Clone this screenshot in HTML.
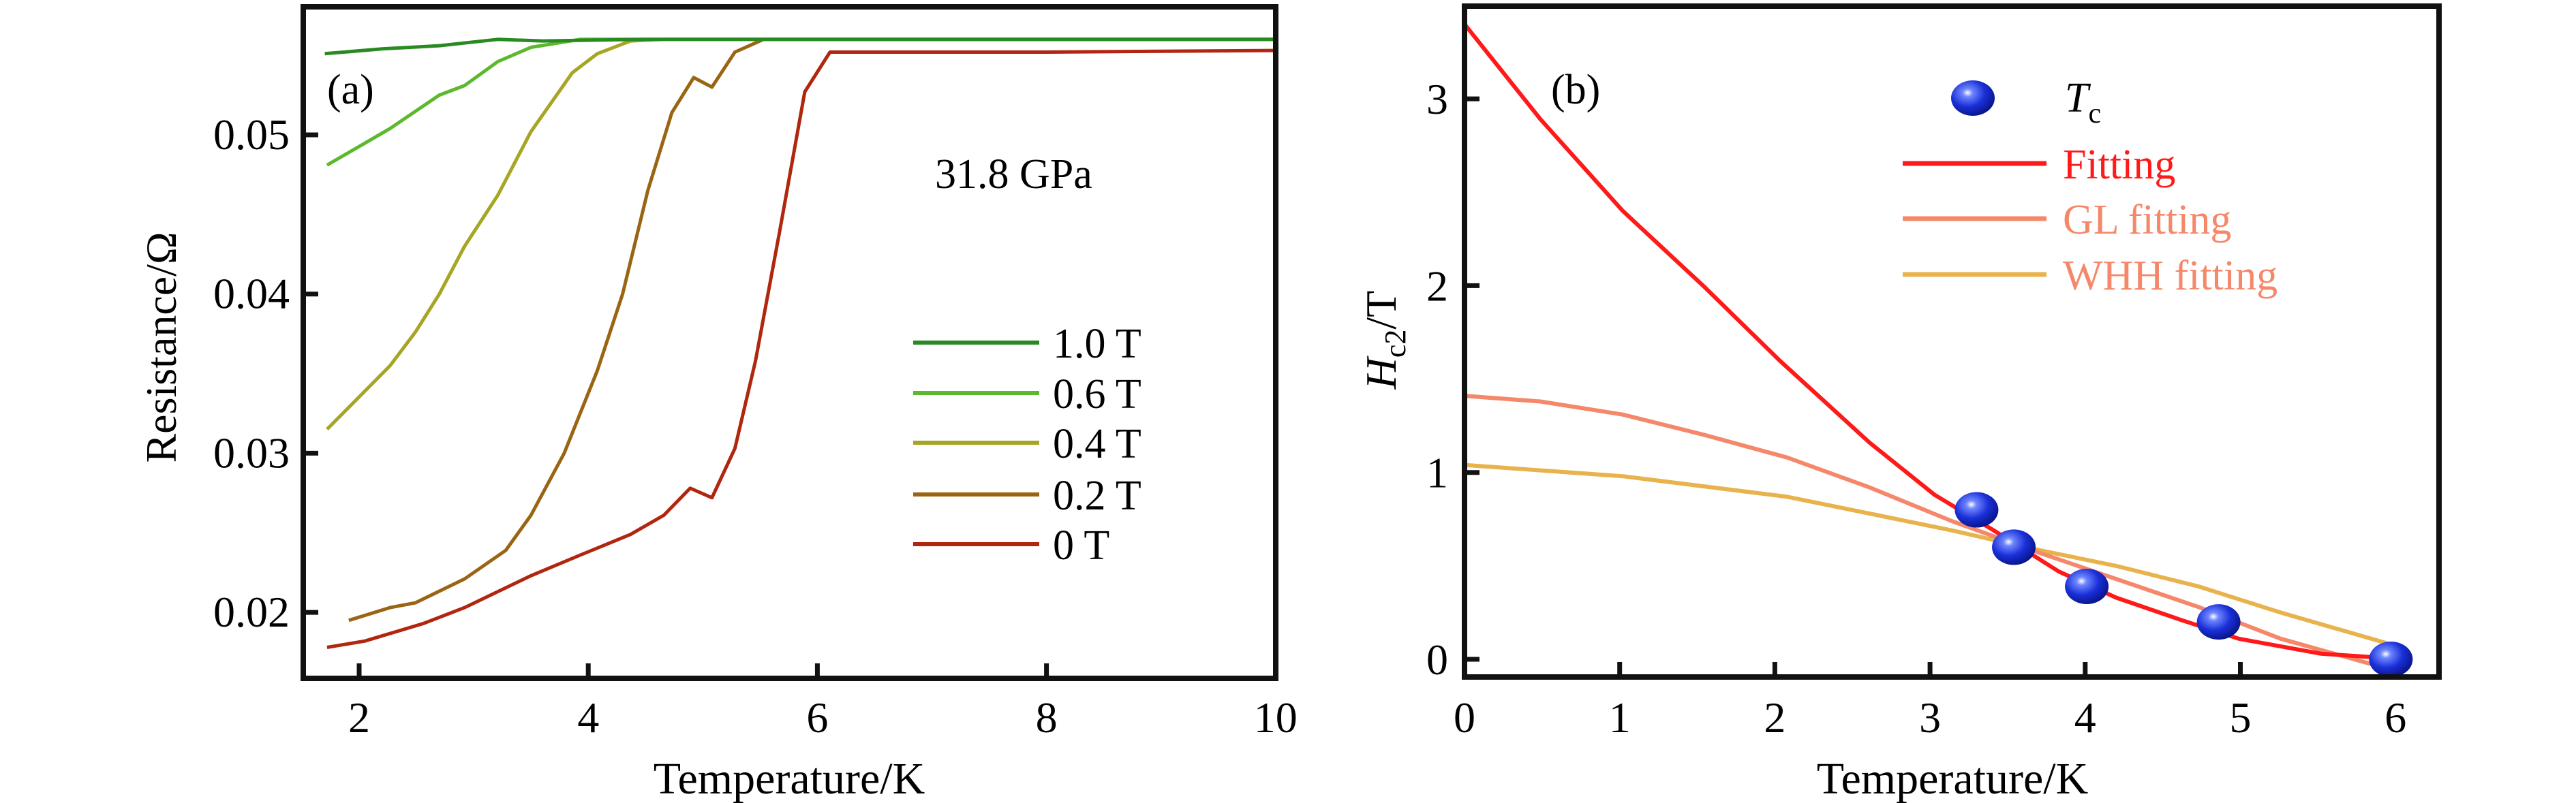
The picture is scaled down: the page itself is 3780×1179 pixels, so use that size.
<!DOCTYPE html>
<html><head><meta charset="utf-8"><style>
html,body{margin:0;padding:0;background:#fff;}
svg{display:block;}
text{font-family:"Liberation Serif",serif;}
</style></head><body>
<svg id="fig" width="3780" height="1179" viewBox="0 0 3780 1179" xmlns="http://www.w3.org/2000/svg">
<defs>
<radialGradient id="ball" cx="0.38" cy="0.35" r="0.65">
<stop offset="0" stop-color="#ffffff"/><stop offset="0.18" stop-color="#6f86ff"/><stop offset="0.6" stop-color="#1a30d8"/><stop offset="1" stop-color="#0a1690"/>
</radialGradient>
</defs>
<g id="pa"></g>
<g id="pb"></g>
</svg>
<script>
// Panel (a) data
const aFields = ["1.0 T","0.6 T","0.4 T","0.2 T","0 T"];
const aColors = ["#2a8a22","#5cb82c","#a6a524","#9a6512","#b0260e"];
const t10 = [1.70,2.2,2.7,3.21,3.6,4.5,6,8,10];
const r10 = [0.0551,0.0554,0.0556,0.0560,0.0559,0.0560,0.0560,0.0560,0.0560];
const t06 = [1.72,2.27,2.70,2.92,3.21,3.50,3.93,5,7,10];
const r06 = [0.0481,0.0504,0.0525,0.0531,0.0546,0.0555,0.0560,0.0560,0.0560,0.0560];
const t04 = [1.72,2.27,2.49,2.70,2.92,3.21,3.50,3.86,4.08,4.37,4.66,7,10];
const r04 = [0.0315,0.0355,0.0376,0.0400,0.0430,0.0462,0.0502,0.0539,0.0551,0.0559,0.0560,0.0560,0.0560];
const t02 = [1.91,2.27,2.49,2.92,3.28,3.50,3.79,4.08,4.30,4.52,4.73,4.92,5.08,5.28,5.53,7,10];
const r02 = [0.0195,0.0203,0.0206,0.0221,0.0239,0.0261,0.0300,0.0352,0.0400,0.0465,0.0514,0.0536,0.0530,0.0552,0.0560,0.0560,0.0560];
const t00 = [1.72,2.05,2.56,2.92,3.50,3.93,4.37,4.66,4.89,5.08,5.28,5.46,5.67,5.89,6.11,8,10];
const r00 = [0.0178,0.0182,0.0193,0.0203,0.0223,0.0236,0.0249,0.0261,0.0278,0.0272,0.0303,0.0358,0.0439,0.0527,0.0552,0.0552,0.0553];
const aXTicks = [2,4,6,8,10];
const aYTicks = [0.02,0.03,0.04,0.05];
const aYLabels = ["0.02","0.03","0.04","0.05"];
// Panel (b) data
const bTc = [3.30,3.54,4.01,4.86,5.97];
const bHc = [0.80,0.60,0.39,0.20,0.00];
const fitT = [0,0.49,1.02,1.55,2.03,2.61,3.03,3.41,3.83,4.20,4.62,4.99,5.52,5.97];
const fitH = [3.40,2.89,2.40,1.99,1.60,1.16,0.88,0.69,0.47,0.33,0.21,0.11,0.03,0.005];
const glT = [0,0.49,1.02,1.55,2.08,2.61,3.14,3.67,4.20,4.73,5.26,5.97];
const glH = [1.41,1.38,1.31,1.20,1.08,0.92,0.74,0.58,0.43,0.28,0.11,-0.055];
const whhT = [0,1.02,2.08,3.14,3.67,4.20,4.73,5.26,5.97];
const whhH = [1.04,0.98,0.87,0.69,0.59,0.50,0.39,0.25,0.08];
const bXTicks = [0,1,2,3,4,5,6];
const bYTicks = [0,1,2,3];

const NS="http://www.w3.org/2000/svg";
function mk(parent,tag,attrs,txt){const e=document.createElementNS(NS,tag);for(const k in attrs)e.setAttribute(k,attrs[k]);if(txt!==undefined)e.textContent=txt;parent.appendChild(e);return e;}
function pathD(xs,ys,fx,fy){return xs.map((x,i)=>(i?"L":"M")+fx(x).toFixed(1)+","+fy(ys[i]).toFixed(1)).join(" ");}

// ---- panel a
const pa=document.getElementById('pa');
const aL=445,aR=1872,aT=10,aB=996;
const ax=t=>527+(t-2)*168.1;
const ay=r=>198+(0.05-r)*23370;
const aSeries=[[t10,r10],[t06,r06],[t04,r04],[t02,r02],[t00,r00]];
const aNames=['curve-1p0T','curve-0p6T','curve-0p4T','curve-0p2T','curve-0T'];
for(let i=aSeries.length-1;i>=0;i--){
  const p=mk(pa,'path',{d:pathD(aSeries[i][0],aSeries[i][1],ax,ay),fill:'none',stroke:aColors[i],'stroke-width':5,'stroke-linejoin':'round'});
  
  
}
const fa=mk(pa,'rect',{x:aL,y:aT,width:aR-aL,height:aB-aT,fill:'none',stroke:'#111','stroke-width':8});


aXTicks.forEach(t=>{
  const x=ax(t);
  if(t<10){const tk=mk(pa,'line',{x1:x,y1:aB,x2:x,y2:aB-22,stroke:'#111','stroke-width':7});
  
  }
  const lb=mk(pa,'text',{x:x,y:1075,'font-size':64,'text-anchor':'middle'},String(t));
  
  
});
aYTicks.forEach((v,i)=>{
  const y=ay(v);
  const tk=mk(pa,'line',{x1:aL,y1:y,x2:aL+22,y2:y,stroke:'#111','stroke-width':7});
  
  
  const lb=mk(pa,'text',{x:425,y:y+21,'font-size':64,'text-anchor':'end'},aYLabels[i]);
  
  
});
let t=mk(pa,'text',{x:1158,y:1165,'font-size':66,'text-anchor':'middle'},'Temperature/K');


t=mk(pa,'text',{x:0,y:0,'font-size':64,'text-anchor':'middle',transform:'translate(258,510) rotate(-90)'},'Resistance/Ω');


t=mk(pa,'text',{x:480,y:152,'font-size':62},'(a)');


t=mk(pa,'text',{x:1372,y:276,'font-size':62},'31.8 GPa');


const legY=[503,577,650,726,799];
aFields.forEach((f,i)=>{
  const l=mk(pa,'line',{x1:1340,y1:legY[i],x2:1525,y2:legY[i],stroke:aColors[i],'stroke-width':6});
  
  
  const lt=mk(pa,'text',{x:1545,y:legY[i]+22,'font-size':62},f);
  
  
});

// ---- panel b
const pb=document.getElementById('pb');
const bL=2149,bR=3579,bT=9,bB=994;
const bx=v=>2149+v*227.7;
const by=v=>968-v*274.3;
const bLines=[[whhT,whhH,'#e8b24c','whh-fit-curve'],[glT,glH,'#f5886a','gl-fit-curve'],[fitT,fitH,'#ff1a1a','fit-curve']];
bLines.forEach(s=>{
  const p=mk(pb,'path',{d:pathD(s[0],s[1],bx,by),fill:'none',stroke:s[2],'stroke-width':6,'stroke-linejoin':'round'});
  
  
});
bTc.forEach((v,i)=>{
  const c=mk(pb,'ellipse',{cx:bx(v),cy:by(bHc[i]),rx:32,ry:26,fill:'url(#ball)'});
  
  
});
const fb=mk(pb,'rect',{x:bL,y:bT,width:bR-bL,height:bB-bT,fill:'none',stroke:'#111','stroke-width':8});


bXTicks.forEach(v=>{
  const x=bx(v);
  if(v>0&&v<6){const tk=mk(pb,'line',{x1:x,y1:bB,x2:x,y2:bB-22,stroke:'#111','stroke-width':7});
  
  }
  const lb=mk(pb,'text',{x:x,y:1075,'font-size':64,'text-anchor':'middle'},String(v));
  
  
});
bYTicks.forEach(v=>{
  const y=by(v);
  const tk=mk(pb,'line',{x1:bL,y1:y,x2:bL+22,y2:y,stroke:'#111','stroke-width':7});
  
  
  const lb=mk(pb,'text',{x:2125,y:y+22,'font-size':64,'text-anchor':'end'},String(v));
  
  
});
t=mk(pb,'text',{x:2865,y:1165,'font-size':66,'text-anchor':'middle'},'Temperature/K');


t=mk(pb,'text',{x:0,y:0,'font-size':64,'text-anchor':'middle',transform:'translate(2048,499) rotate(-90)'});


mk(t,'tspan',{'font-style':'italic'},'H');
mk(t,'tspan',{'font-size':44,dy:14},'c2');
mk(t,'tspan',{dy:-14},'/T');
t=mk(pb,'text',{x:2276,y:152,'font-size':62},'(b)');


const lb0=mk(pb,'ellipse',{cx:2895,cy:144,rx:32,ry:26,fill:'url(#ball)'});


t=mk(pb,'text',{x:3030,y:164,'font-size':62});


mk(t,'tspan',{'font-style':'italic'},'T');
mk(t,'tspan',{'font-size':42,dy:16},'c');
const bLeg=[['Fitting','#ff1a1a','#ff1a1a',240],['GL fitting','#f5886a','#f5886a',321],['WHH fitting','#e8b24c','#f5886a',403]];
bLeg.forEach(e=>{
  const l=mk(pb,'line',{x1:2792,y1:e[3],x2:3003,y2:e[3],stroke:e[1],'stroke-width':7});
  
  
  const lt=mk(pb,'text',{x:3027,y:e[3]+22,'font-size':62,fill:e[2]},e[0]);
  
  
});
</script>
</body></html>
